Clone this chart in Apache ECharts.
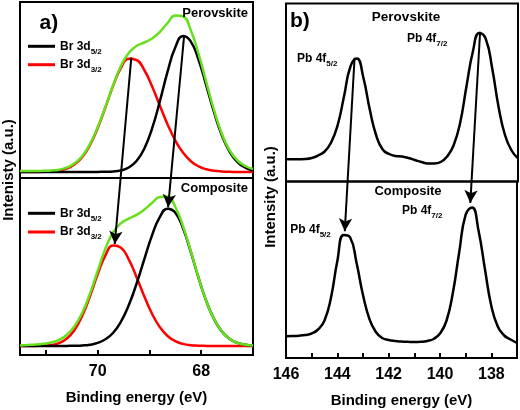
<!DOCTYPE html>
<html><head><meta charset="utf-8">
<script src="https://cdn.jsdelivr.net/npm/echarts@6/dist/echarts.min.js"></script>
<style>html,body{margin:0;padding:0;background:#fff}#c{width:520px;height:410px}</style>
</head><body><div id="c"></div>
<script>
// ---------- data ----------
// Panel a: Br 3d, binding energy (eV)
const energyA = [71.5,71.35,71.2,71.05,70.9,70.75,70.6,70.45,70.3,70.15,70.0,69.85,69.7,69.55,69.4,69.25,69.1,68.95,68.8,68.65,68.5,68.35,68.2,68.05,67.9,67.75,67.6,67.45,67.3,67.15,67.0];
const perovBr52 = [6,6,6,6,6,6,6,6,6,6,6.1,6.2,6.5,7.6,10.5,17,29.3,49.4,76.5,106.3,130.8,142,136.4,118,92.1,65.3,42.5,26.1,15.9,10.4,7.7];
const perovBr32 = [6,6,6,6.2,6.5,7.3,9.3,13.4,20.8,32.8,49.8,70.7,92.4,110.1,119.3,118,108,91.8,72.5,53.6,37.5,25.2,16.8,11.6,8.7,7.2,6.5,6.2,6,6,6];
const perovEnvA = [7,7,7,7.2,7.5,8.3,10.3,14.4,21.8,33.8,50.8,71,93,112,125,132,135.5,139.5,146,155,162.5,161.5,147.5,124,95.5,67.5,44,27.5,17.5,12,9];
const compBr52 = [9,9,9,9,9,9,9.1,9.2,9.5,10.3,12.1,15.7,22.3,33.4,49.7,71.2,95.7,119.6,137.9,146.3,142.3,126.4,102.8,76.9,53.6,35.6,23.4,16.1,12.1,10.3,9.5];
const compBr32 = [9,9,9.1,9.3,10,11.9,16.3,24.8,38.9,58.5,80.6,99.7,109.5,107.3,95.7,78,58.7,41.3,27.9,19,13.8,11.1,9.8,9.3,9.1,9,9,9,9,9,9];
const compEnvA = [9.5,10,10.5,11.3,12.5,15,20,28.5,42,61,84,106.4,122.8,131.7,136.4,140.2,145.4,152,158,158.5,148,128.5,103.6,77.2,53.7,35.6,23.4,16.1,12.1,10.3,9.5];
// Panel b: Pb 4f
const energyB = [146,145.75,145.5,145.25,145,144.75,144.5,144.25,144,143.75,143.5,143.25,143,142.75,142.5,142.25,142,141.75,141.5,141.25,141,140.75,140.5,140.25,140,139.75,139.5,139.25,139,138.75,138.5,138.25,138,137.75,137.5,137.25,137];
const perovPb = [22.2,22.2,22.3,22.5,23.5,26,30,39,56,85,115,123,104,72,46,32,27.5,25.5,25,23.5,21.5,19.5,18,18,19.5,25,36,58,95,130,148.5,142.5,113,74,46,31,23.2];
const compPb  = [21.7,22,22.3,23,24.5,28.5,37.5,60,97,123,120.5,95,63,39,26,20,18,17,16.5,16.2,16,16.2,17,19,24.5,37,65,106,143.3,150.5,127.5,89,52,31.5,22.5,18.5,15];
// Peak shifts: [energy top, intensity top, energy bottom, intensity bottom]
const shiftsA = [[69.35,120.7,69.67,111],[68.33,142.3,68.64,147.7]];
const shiftsB = [[143.34,123.8,143.72,126.7],[138.47,149.8,138.85,155]];
// Tick labels
const tickLabelsA = [70, 68];
const tickLabelsB = [146, 144, 142, 140, 138];

// ---------- chart ----------
const FONT = '"Liberation Sans", Arial, Helvetica, sans-serif';
const chart = echarts.init(document.getElementById('c'), null, {renderer:'canvas', width:520, height:410});
const pairs = (xs, ys) => xs.map((x, i) => [x, ys[i]]);
const frame = {show:true, borderColor:'#000', borderWidth:2, backgroundColor:'transparent'};
const H = {aTop:176, aBot:177, bTop:178, bBot:176.5};

function hiddenX(gi, min, max) {
  return {gridIndex:gi, type:'value', min:min, max:max, inverse:true, show:false};
}
function bottomX(gi, min, max, labels) {
  return {gridIndex:gi, type:'value', min:min, max:max, inverse:true, interval:1,
    axisLine:{show:false, onZero:false}, splitLine:{show:false},
    axisTick:{show:true, inside:true, length:5, lineStyle:{color:'#000', width:2}},
    axisLabel:{margin:9, fontSize:16, fontWeight:'bold', color:'#000', fontFamily:FONT,
      showMinLabel:true, showMaxLabel:true,
      formatter: v => labels.indexOf(v) >= 0 ? String(v) : ''},
    name:'Binding energy (eV)', nameLocation:'middle', nameGap:35,
    nameTextStyle:{fontSize:15, fontWeight:'bold', color:'#000', fontFamily:FONT}};
}
function hiddenY(gi, max) { return {gridIndex:gi, type:'value', min:0, max:max, show:false}; }
function curve(name, xi, xs, ys, color, z) {
  return {name:name, type:'line', xAxisIndex:xi, yAxisIndex:xi, data:pairs(xs, ys),
    symbol:'none', smooth:true, z:z, silent:true,
    lineStyle:{color:color, width:2.5}, itemStyle:{color:color}};
}
function arrows(xi, list, offset) {
  return {type:'line', xAxisIndex:xi, yAxisIndex:xi, data:[], symbol:'none', silent:true, z:10,
    markLine:{silent:true, symbol:['none','arrow'], symbolSize:[10,13],
      label:{show:false}, emphasis:{disabled:true}, animation:false,
      lineStyle:{color:'#000', width:2, type:'solid'},
      data: list.map(s => [{coord:[s[0], s[1] + offset]}, {coord:[s[2], s[3]]}])}};
}
const rich = {
  m:{fontSize:12, fontWeight:'bold', fontFamily:FONT, color:'#000', lineHeight:18},
  s:{fontSize:8, fontWeight:'bold', fontFamily:FONT, color:'#000', verticalAlign:'bottom'}
};
const subName = n => '{m|' + n.replace(/(\d\/\d)$/, '}{s|$1}');
function legendAt(name, top) {
  return {data:[name], left:28, top:top, padding:0, orient:'horizontal', icon:'rect',
    itemWidth:27, itemHeight:3, selectedMode:false, itemStyle:{borderWidth:0},
    formatter: subName, textStyle:{rich:rich, fontSize:12, fontWeight:'bold', fontFamily:FONT, color:'#000'}};
}
function label(text, x, y) {
  return {type:'text', x:x, y:y, silent:true, z:20,
    style:{text:text, rich:rich, fill:'#000', fontFamily:FONT, fontWeight:'bold', fontSize:12,
      align:'left', verticalAlign:'middle', textAlign:'left', textVerticalAlign:'middle'}};
}
function plain(text, x, y, size, align, rot) {
  return {type:'text', x:x, y:y, rotation:rot || 0, silent:true, z:20,
    style:{text:text, fill:'#000', fontFamily:FONT, fontWeight:'bold', fontSize:size,
      align:align, verticalAlign:'middle', textAlign:align, textVerticalAlign:'middle'}};
}

const option = {
  animation:false,
  backgroundColor:'#fff',
  grid:[
    Object.assign({left:20, top:2, width:233, height:H.aTop}, frame),
    Object.assign({left:20, top:178, width:233, height:H.aBot}, frame),
    Object.assign({left:286, top:3.5, width:232, height:H.bTop}, frame),
    Object.assign({left:286, top:181.5, width:232, height:H.bBot}, frame),
    {left:20, top:2, width:233, height:H.aTop + H.aBot},
    {left:286, top:3.5, width:232, height:H.bTop + H.bBot}
  ],
  xAxis:[hiddenX(0,67,71.5), bottomX(1,67,71.5,tickLabelsA), hiddenX(2,137,146), bottomX(3,137,146,tickLabelsB), hiddenX(4,67,71.5), hiddenX(5,137,146)],
  yAxis:[hiddenY(0,H.aTop), hiddenY(1,H.aBot), hiddenY(2,H.bTop), hiddenY(3,H.bBot), hiddenY(4,H.aTop+H.aBot), hiddenY(5,H.bTop+H.bBot)],
  legend:[legendAt('Br 3d5/2', 40.3), legendAt('Br 3d3/2', 58.7), legendAt('Br 3d5/2', 207.3), legendAt('Br 3d3/2', 226)],
  series:[
    curve('Br 3d3/2', 0, energyA, perovBr32, '#ff0000', 2),
    curve('Br 3d5/2', 0, energyA, perovBr52, '#000000', 3),
    curve('Envelope (Perovskite)', 0, energyA, perovEnvA, '#66e01c', 4),
    curve('Br 3d3/2', 1, energyA, compBr32, '#ff0000', 2),
    curve('Br 3d5/2', 1, energyA, compBr52, '#000000', 3),
    curve('Envelope (Composite)', 1, energyA, compEnvA, '#66e01c', 4),
    curve('Pb 4f Perovskite', 2, energyB, perovPb, '#000000', 3),
    curve('Pb 4f Composite', 3, energyB, compPb, '#000000', 3),
    arrows(4, shiftsA, H.aBot),
    arrows(5, shiftsB, H.bBot)
  ],
  graphic:[
    plain('a)', 39.5, 23, 21, 'left'),
    plain('b)', 290, 21.5, 21, 'left'),
    plain('Perovskite', 248, 13.3, 13, 'right'),
    plain('Composite', 248, 188.2, 13, 'right'),
    plain('Perovskite', 406, 17.2, 13.5, 'center'),
    plain('Composite', 408, 191.5, 13, 'center'),
    label('{m|Pb 4f}{s|5/2}', 297, 59),
    label('{m|Pb 4f}{s|7/2}', 407, 39),
    label('{m|Pb 4f}{s|5/2}', 290.3, 230),
    label('{m|Pb 4f}{s|7/2}', 402, 210.3),
    plain('Intenisty (a.u.)', 8.5, 170, 15, 'center', Math.PI/2),
    plain('Intensity (a.u.)', 271, 197, 15, 'center', Math.PI/2)
  ]
};
chart.setOption(option);
</script>
</body></html>
